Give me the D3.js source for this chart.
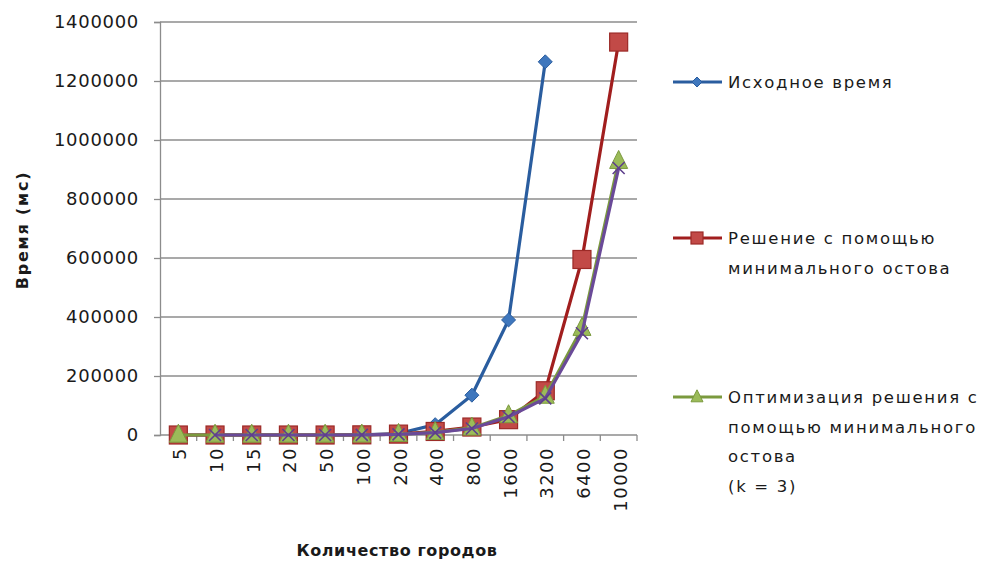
<!DOCTYPE html>
<html>
<head>
<meta charset="utf-8">
<script src="https://cdn.jsdelivr.net/npm/d3@7"></script>
<style>
  html, body { margin: 0; padding: 0; background: #fff; }
  svg { display: block; }
  text { font-family: "DejaVu Sans", "Noto Sans", sans-serif; fill: #1a1a1a; }
</style>
</head>
<body>
<svg id="chart" width="988" height="562"></svg>
<script>
// Number of cities (categories on the x axis)
const cities = ["5", "10", "15", "20", "50", "100", "200", "400", "800", "1600", "3200", "6400", "10000"];

// Running time, ms
const baseTime   = [0, 0, 0, 0, 0, 500, 5000, 35000, 135000, 390000, 1265000, null, null];
const mstTime    = [0, 0, 0, 0, 0, 500, 3000, 12000, 27000, 52000, 150000, 595000, 1332000];
const mstOptK3   = [0, 0, 0, 0, 0, 400, 2500, 9000, 24000, 66000, 132000, 362000, 928000];
const mstOptOther = [null, 0, 0, 0, 0, 400, 2300, 8000, 22000, 62000, 124000, 345000, 905000];

const yTicks = [0, 200000, 400000, 600000, 800000, 1000000, 1200000, 1400000];

const seriesNames = [
  "Исходное время",
  "Решение с помощью\nминимального остова",
  "Оптимизация решения с\nпомощью минимального\nостова\n(k = 3)"
];

const series = [
  { values: baseTime,    line: "#2a5d9f", fill: "#3f77bd", stroke: "#2a5d9f", marker: "diamond", legend: seriesNames[0] },
  { values: mstTime,     line: "#a11e1e", fill: "#c24a47", stroke: "#9c2a27", marker: "square",  legend: seriesNames[1] },
  { values: mstOptK3,    line: "#7b9a3e", fill: "#9bbb59", stroke: "#7b9a3e", marker: "triangle", legend: seriesNames[2] },
  { values: mstOptOther, line: "#6a4a98", fill: "none",    stroke: "#5e3f8c", marker: "x", legend: null }
];

const svg = d3.select("#chart");
const plot = { left: 160, right: 637, top: 22, bottom: 435 };

const x = d3.scaleBand().domain(cities).range([plot.left, plot.right]).padding(0);
const y = d3.scaleLinear().domain([0, 1400000]).range([plot.bottom, plot.top]);
const cx = c => x(c) + x.bandwidth() / 2;

// Horizontal gridlines
svg.append("g")
  .selectAll("line")
  .data(yTicks.filter(t => t > 0))
  .join("line")
  .attr("x1", plot.left).attr("x2", plot.right)
  .attr("y1", d => y(d)).attr("y2", d => y(d))
  .attr("stroke", "#8c8c8c").attr("stroke-width", 1.3);

// Y axis
const yAxis = svg.append("g")
  .attr("transform", `translate(${plot.left},0)`)
  .call(d3.axisLeft(y).tickValues(yTicks).tickSize(6).tickPadding(15).tickFormat(d3.format("d")));
yAxis.select(".domain").attr("stroke", "#8c8c8c").attr("stroke-width", 1.3);
yAxis.selectAll(".tick line").attr("stroke", "#8c8c8c").attr("stroke-width", 1.3);
yAxis.selectAll(".tick text")
  .style("font-size", "18px")
  .attr("letter-spacing", "0.7px")
  .attr("fill", "#1a1a1a");

// X axis: tick marks on category boundaries, labels rotated
const xAxis = svg.append("g").attr("transform", `translate(0,${plot.bottom})`);
xAxis.append("line")
  .attr("x1", plot.left).attr("x2", plot.right)
  .attr("stroke", "#8c8c8c").attr("stroke-width", 1.3);
xAxis.selectAll("line.tk")
  .data(cities)
  .join("line")
  .attr("class", "tk")
  .attr("x1", d => x(d) + x.bandwidth()).attr("x2", d => x(d) + x.bandwidth())
  .attr("y1", 0).attr("y2", 6)
  .attr("stroke", "#8c8c8c").attr("stroke-width", 1.3);
xAxis.selectAll("text")
  .data(cities)
  .join("text")
  .attr("transform", d => `translate(${cx(d) + 8},12) rotate(-90)`)
  .attr("text-anchor", "end")
  .style("font-size", "18px")
  .attr("letter-spacing", "1.5px")
  .text(d => d);

// Axis titles
svg.append("text")
  .attr("x", 397).attr("y", 556)
  .attr("text-anchor", "middle")
  .style("font-size", "16px").style("font-weight", "bold")
  .attr("letter-spacing", "0.6px")
  .text("Количество городов");
svg.append("text")
  .attr("transform", "translate(28,230) rotate(-90)")
  .attr("text-anchor", "middle")
  .style("font-size", "16px").style("font-weight", "bold")
  .attr("letter-spacing", "1.8px")
  .text("Время (мс)");

// Marker drawing
function drawMarker(g, s, px, py, size) {
  if (s.marker === "diamond") {
    g.append("path")
      .attr("d", `M${px},${py - size}L${px + size},${py}L${px},${py + size}L${px - size},${py}Z`)
      .attr("fill", s.fill).attr("stroke", s.stroke).attr("stroke-width", 1);
  } else if (s.marker === "square") {
    g.append("rect")
      .attr("x", px - size).attr("y", py - size)
      .attr("width", size * 2).attr("height", size * 2)
      .attr("fill", s.fill).attr("stroke", s.stroke).attr("stroke-width", 1.2);
  } else if (s.marker === "triangle") {
    g.append("path")
      .attr("d", `M${px},${py - size * 1.2}L${px + size},${py + size * 0.8}L${px - size},${py + size * 0.8}Z`)
      .attr("fill", s.fill).attr("stroke", s.stroke).attr("stroke-width", 1);
  } else if (s.marker === "x") {
    g.append("path")
      .attr("d", `M${px - size},${py - size}L${px + size},${py + size}M${px - size},${py + size}L${px + size},${py - size}`)
      .attr("stroke", s.stroke).attr("stroke-width", 1.6).attr("fill", "none");
  }
}

const markerSize = { diamond: 7, square: 9, triangle: 9, x: 6 };

const line = d3.line()
  .defined(d => d.v !== null)
  .x(d => cx(d.c))
  .y(d => y(d.v));

series.forEach(s => {
  const pts = cities.map((c, i) => ({ c, v: s.values[i] }));
  const g = svg.append("g");
  g.append("path")
    .datum(pts)
    .attr("d", line)
    .attr("fill", "none")
    .attr("stroke", s.line)
    .attr("stroke-width", 3.2)
    .attr("stroke-linejoin", "round");
  pts.filter(p => p.v !== null).forEach(p => drawMarker(g, s, cx(p.c), y(p.v), markerSize[s.marker]));
});

// Legend
const legendRows = [
  { s: series[0], y: 82 },
  { s: series[1], y: 238 },
  { s: series[2], y: 397 }
];
legendRows.forEach(r => {
  const g = svg.append("g");
  g.append("line")
    .attr("x1", 673).attr("x2", 722).attr("y1", r.y).attr("y2", r.y)
    .attr("stroke", r.s.line).attr("stroke-width", 3.2);
  drawMarker(g, r.s, 697, r.y, r.s.marker === "diamond" ? 5 : 6);
  const lines = r.s.legend.split("\n");
  const t = g.append("text")
    .attr("x", 728).attr("y", r.y + 6)
    .style("font-size", "16.5px")
    .attr("letter-spacing", "1.7px");
  lines.forEach((ln, i) => {
    t.append("tspan").attr("x", 728).attr("dy", i === 0 ? 0 : 29.5).text(ln);
  });
});
</script>
</body>
</html>
